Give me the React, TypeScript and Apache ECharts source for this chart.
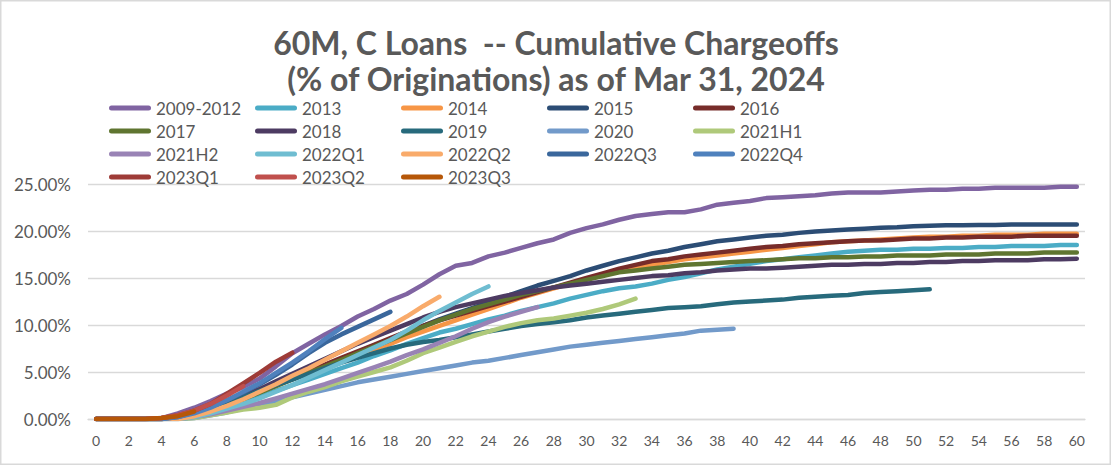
import React, { useEffect, useRef } from "react";
import * as echarts from "echarts";

const months: string[] = Array.from({ length: 61 }, (_, i) => String(i));

const seriesNames = [
  "2009-2012", "2013", "2014", "2015", "2016",
  "2017", "2018", "2019", "2020", "2021H1",
  "2021H2", "2022Q1", "2022Q2", "2022Q3", "2022Q4",
  "2023Q1", "2023Q2", "2023Q3",
];

const seriesColors = [
  "#8064A2", "#4BACC6", "#F79646", "#2C4D75", "#772C2A",
  "#5F7530", "#4D3B62", "#276A7C", "#729ACA", "#AFC97A",
  "#9983B5", "#6FBDD1", "#F9AB6B", "#3A679C", "#4F81BD",
  "#9E3B37", "#C0504D", "#B65708",
];

// cumulative chargeoffs, % of originations, by month on book
const v2009_2012 = [0, 0, 0, 0, 0.1, 0.6, 1.2, 1.9, 2.7, 3.4, 4.3, 5.6, 7.0, 8.0, 9.0, 9.9, 10.9, 11.7, 12.6, 13.3, 14.3, 15.4, 16.3, 16.6, 17.3, 17.7, 18.2, 18.7, 19.1, 19.8, 20.3, 20.7, 21.2, 21.6, 21.8, 22.0, 22.0, 22.3, 22.8, 23.0, 23.2, 23.5, 23.6, 23.7, 23.8, 24.0, 24.1, 24.1, 24.1, 24.2, 24.3, 24.4, 24.4, 24.5, 24.5, 24.6, 24.6, 24.6, 24.6, 24.7, 24.7];
const v2013 = [0, 0, 0, 0, 0, 0.1, 0.4, 0.8, 1.3, 1.8, 2.4, 3.0, 3.6, 4.2, 4.8, 5.4, 6.0, 6.7, 7.3, 8.0, 8.6, 9.2, 9.6, 10.1, 10.6, 11.0, 11.5, 11.9, 12.3, 12.8, 13.2, 13.6, 13.9, 14.1, 14.4, 14.8, 15.1, 15.5, 15.9, 16.2, 16.5, 16.8, 17.0, 17.2, 17.4, 17.6, 17.8, 17.9, 18.0, 18.0, 18.1, 18.1, 18.2, 18.2, 18.3, 18.3, 18.4, 18.4, 18.4, 18.5, 18.5];
const v2014 = [0, 0, 0, 0, 0, 0.2, 0.6, 1.1, 1.7, 2.3, 3.0, 3.7, 4.3, 4.9, 5.5, 6.1, 6.8, 7.4, 8.0, 8.7, 9.3, 9.9, 10.5, 11.1, 11.7, 12.3, 12.9, 13.4, 13.9, 14.4, 14.9, 15.3, 15.7, 16.0, 16.4, 16.7, 17.0, 17.2, 17.4, 17.6, 17.8, 18.0, 18.2, 18.4, 18.6, 18.8, 18.9, 19.0, 19.1, 19.2, 19.3, 19.4, 19.4, 19.5, 19.5, 19.6, 19.6, 19.6, 19.7, 19.7, 19.7];
const v2015 = [0, 0, 0, 0, 0, 0.2, 0.6, 1.0, 1.6, 2.2, 2.9, 3.6, 4.3, 5.0, 5.7, 6.4, 7.1, 7.8, 8.5, 9.2, 9.9, 10.6, 11.2, 11.8, 12.4, 13.0, 13.6, 14.2, 14.7, 15.2, 15.8, 16.3, 16.8, 17.2, 17.6, 17.9, 18.3, 18.6, 18.9, 19.1, 19.3, 19.5, 19.6, 19.8, 19.95, 20.05, 20.15, 20.25, 20.35, 20.4, 20.5, 20.55, 20.6, 20.6, 20.65, 20.65, 20.7, 20.7, 20.7, 20.7, 20.7];
const v2016 = [0, 0, 0, 0, 0, 0.2, 0.6, 1.1, 1.7, 2.3, 3.0, 3.7, 4.4, 5.1, 5.8, 6.5, 7.2, 7.9, 8.6, 9.3, 9.9, 10.5, 11.0, 11.5, 12.0, 12.5, 13.0, 13.5, 14.0, 14.5, 15.0, 15.5, 16.0, 16.4, 16.8, 17.0, 17.3, 17.5, 17.7, 17.9, 18.1, 18.3, 18.4, 18.6, 18.7, 18.8, 18.9, 19.0, 19.0, 19.1, 19.2, 19.2, 19.3, 19.3, 19.4, 19.4, 19.4, 19.5, 19.5, 19.5, 19.5];
const v2017 = [0, 0, 0, 0, 0, 0.2, 0.5, 1.0, 1.5, 2.1, 2.8, 3.5, 4.2, 4.9, 5.6, 6.3, 7.0, 7.7, 8.4, 9.1, 9.8, 10.5, 11.1, 11.7, 12.2, 12.7, 13.2, 13.6, 14.0, 14.4, 14.8, 15.2, 15.6, 15.8, 16.0, 16.2, 16.4, 16.5, 16.6, 16.7, 16.8, 16.9, 17.0, 17.1, 17.1, 17.2, 17.2, 17.3, 17.3, 17.4, 17.4, 17.4, 17.5, 17.5, 17.5, 17.6, 17.6, 17.6, 17.7, 17.7, 17.7];
const v2018 = [0, 0, 0, 0, 0, 0.2, 0.6, 1.1, 1.7, 2.4, 3.2, 4.0, 4.8, 5.6, 6.4, 7.2, 8.0, 8.7, 9.4, 10.1, 10.8, 11.4, 11.9, 12.3, 12.7, 13.1, 13.4, 13.7, 14.0, 14.2, 14.4, 14.6, 14.8, 15.0, 15.2, 15.3, 15.5, 15.6, 15.8, 15.9, 16.0, 16.0, 16.1, 16.2, 16.3, 16.4, 16.4, 16.5, 16.5, 16.6, 16.6, 16.7, 16.7, 16.8, 16.8, 16.9, 16.9, 16.9, 17.0, 17.0, 17.05];
const v2019 = [0, 0, 0, 0, 0, 0.2, 0.6, 1.1, 1.7, 2.3, 3.0, 3.6, 4.2, 4.8, 5.4, 6.0, 6.5, 7.0, 7.5, 7.9, 8.2, 8.4, 8.7, 9.0, 9.3, 9.6, 9.9, 10.1, 10.3, 10.5, 10.8, 11.0, 11.2, 11.4, 11.6, 11.8, 11.9, 12.0, 12.2, 12.4, 12.5, 12.6, 12.7, 12.9, 13.0, 13.1, 13.2, 13.4, 13.5, 13.6, 13.7, 13.8];
const v2020 = [0, 0, 0, 0, 0, 0, 0.1, 0.4, 0.7, 1.1, 1.5, 1.9, 2.3, 2.7, 3.1, 3.5, 3.9, 4.2, 4.5, 4.8, 5.1, 5.4, 5.7, 6.0, 6.2, 6.5, 6.8, 7.1, 7.4, 7.7, 7.9, 8.1, 8.3, 8.5, 8.7, 8.9, 9.1, 9.4, 9.5, 9.6];
const v2021H1 = [0, 0, 0, 0, 0, 0, 0.1, 0.4, 0.7, 1.0, 1.2, 1.5, 2.3, 2.9, 3.4, 4.0, 4.5, 5.0, 5.5, 6.2, 7.0, 7.6, 8.2, 8.8, 9.3, 9.8, 10.2, 10.5, 10.7, 11.0, 11.3, 11.7, 12.2, 12.8];
const v2021H2 = [0, 0, 0, 0, 0, 0, 0.2, 0.5, 0.9, 1.3, 1.7, 2.2, 2.7, 3.2, 3.7, 4.3, 4.9, 5.5, 6.1, 6.8, 7.4, 8.1, 8.8, 9.6, 10.3, 10.9, 11.4, 11.9];
const v2022Q1 = [0, 0, 0, 0, 0, 0, 0.2, 0.6, 1.1, 1.6, 2.2, 2.9, 3.6, 4.4, 5.2, 6.0, 6.8, 7.6, 8.4, 9.4, 10.5, 11.5, 12.4, 13.3, 14.1];
const v2022Q2 = [0, 0, 0, 0, 0, 0, 0.3, 0.8, 1.4, 2.1, 2.9, 3.7, 4.6, 5.4, 6.3, 7.2, 8.1, 9.0, 9.9, 10.9, 12.0, 13.0];
const v2022Q3 = [0, 0, 0, 0, 0, 0.2, 0.7, 1.3, 2.0, 2.8, 3.7, 4.7, 5.8, 7.0, 8.1, 9.0, 9.8, 10.6, 11.4];
const v2022Q4 = [0, 0, 0, 0, 0, 0.2, 0.6, 1.2, 2.0, 2.9, 3.8, 4.9, 6.0, 7.2, 8.5, 9.7];
const v2023Q1 = [0, 0, 0, 0, 0.1, 0.4, 0.9, 1.6, 2.7, 3.8, 4.9, 6.1, 7.05];
const v2023Q2 = [0, 0, 0, 0, 0.1, 0.4, 0.9, 1.6, 2.5, 3.5];
const v2023Q3 = [0, 0, 0, 0, 0.1, 0.3, 0.8];

const seriesValues = [
  v2009_2012, v2013, v2014, v2015, v2016,
  v2017, v2018, v2019, v2020, v2021H1,
  v2021H2, v2022Q1, v2022Q2, v2022Q3, v2022Q4,
  v2023Q1, v2023Q2, v2023Q3,
];

const yTicks = { min: 0, max: 25, interval: 5 };

const titleText = "60M, C Loans  -- Cumulative Chargeoffs\n(% of Originations) as of Mar 31, 2024";

const FONT = "Lato, 'Noto Sans', sans-serif";
const GREY = "#595959";

export default function App() {
  const ref = useRef<HTMLDivElement>(null);

  useEffect(() => {
    if (!ref.current) return;
    const chart = echarts.init(ref.current, undefined, { renderer: "svg" });
    chart.setOption({
      animation: false,
      backgroundColor: "#ffffff",
      textStyle: { fontFamily: FONT },
      title: {
        text: titleText,
        left: "center",
        top: 24,
        padding: 0,
        textStyle: {
          fontFamily: FONT,
          fontSize: 32,
          fontWeight: "bold",
          color: GREY,
          lineHeight: 36,
        },
      },
      legend: {
        left: 109,
        top: 99,
        width: 735,
        padding: 0,
        itemGap: 5,
        itemWidth: 42,
        itemHeight: 5,
        icon: "path://M2.5,0H39.5A2.5,2.5,0,0,1,39.5,5H2.5A2.5,2.5,0,0,1,2.5,0Z",
        itemStyle: { borderWidth: 0 },
        selectedMode: false,
        textStyle: {
          color: GREY,
          fontFamily: FONT,
          fontSize: 17,
          width: 94,
          lineHeight: 18,
          padding: [0, 0, 0, 0],
        },
        data: seriesNames,
      },
      grid: { left: 88, right: 27, top: 184, bottom: 47, containLabel: false },
      xAxis: {
        type: "category",
        data: months,
        boundaryGap: true,
        axisLine: { show: true, lineStyle: { color: "#D9D9D9", width: 1.3 } },
        axisTick: { show: false },
        axisLabel: {
          interval: 1,
          color: GREY,
          fontFamily: FONT,
          fontSize: 14,
          margin: 14,
        },
        splitLine: { show: false },
      },
      yAxis: {
        type: "value",
        min: yTicks.min,
        max: yTicks.max,
        interval: yTicks.interval,
        axisLine: { show: false },
        axisTick: { show: false },
        axisLabel: {
          color: GREY,
          fontFamily: FONT,
          fontSize: 17,
          margin: 17,
          formatter: (v: number) => v.toFixed(2) + "%",
        },
        splitLine: { show: true, lineStyle: { color: "#D9D9D9", width: 1.3 } },
      },
      graphic: [
        {
          type: "rect",
          silent: true,
          shape: { x: 0.75, y: 0.75, width: 1109.5, height: 463.5 },
          style: { fill: "none", stroke: "#D9D9D9", lineWidth: 1.5 },
          z: 100,
        },
      ],
      series: seriesNames.map((name, i) => ({
        name,
        type: "line",
        data: seriesValues[i],
        symbol: "none",
        showSymbol: false,
        smooth: false,
        itemStyle: { color: seriesColors[i] },
        lineStyle: { color: seriesColors[i], width: 4.5, cap: "round", join: "round" },
        emphasis: { disabled: true },
        z: 2,
      })),
    });
    return () => chart.dispose();
  }, []);

  return (
    <div
      ref={ref}
      style={{ position: "fixed", left: 0, top: 0, width: 1112, height: 466 }}
    />
  );
}
